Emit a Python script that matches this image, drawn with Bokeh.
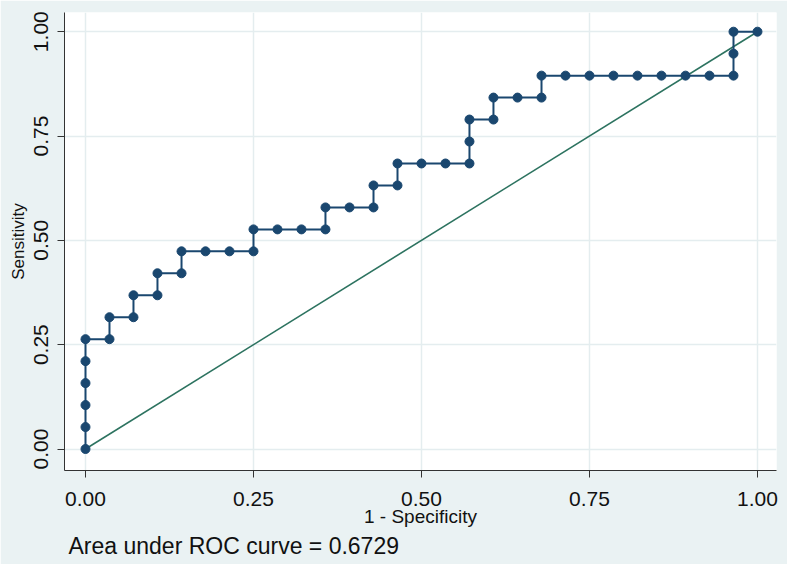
from bokeh.plotting import figure
from bokeh.models import Range1d, FixedTicker, NumeralTickFormatter, Title
from bokeh.embed import file_html
from bokeh.resources import INLINE

# ROC curve points (1 - specificity, sensitivity)
fpr = [0.0, 0.0, 0.0, 0.0, 0.0, 0.0, 0.0357, 0.0357, 0.0714, 0.0714,
       0.1071, 0.1071, 0.1429, 0.1429, 0.1786, 0.2143, 0.25, 0.25, 0.2857, 0.3214,
       0.3571, 0.3571, 0.3929, 0.4286, 0.4286, 0.4643, 0.4643, 0.5, 0.5357, 0.5714,
       0.5714, 0.5714, 0.6071, 0.6071, 0.6429, 0.6786, 0.6786, 0.7143, 0.75, 0.7857,
       0.8214, 0.8571, 0.8929, 0.9286, 0.9643, 0.9643, 0.9643, 1.0]
sens = [0.0, 0.0526, 0.1053, 0.1579, 0.2105, 0.2632, 0.2632, 0.3158, 0.3158, 0.3684,
        0.3684, 0.4211, 0.4211, 0.4737, 0.4737, 0.4737, 0.4737, 0.5263, 0.5263, 0.5263,
        0.5263, 0.5789, 0.5789, 0.5789, 0.6316, 0.6316, 0.6842, 0.6842, 0.6842, 0.6842,
        0.7368, 0.7895, 0.7895, 0.8421, 0.8421, 0.8421, 0.8947, 0.8947, 0.8947, 0.8947,
        0.8947, 0.8947, 0.8947, 0.8947, 0.8947, 0.9474, 1.0, 1.0]
ref_x = [0.0, 1.0]
ref_y = [0.0, 1.0]
ticks = [0.0, 0.25, 0.5, 0.75, 1.0]
auc_text = "Area under ROC curve = 0.6729"

BG = "#EAF2F3"
NAVY = "#1a476f"
GREEN = "#2d7360"
FONT = "Liberation Sans"

p = figure(width=787, height=564, output_backend="svg", toolbar_location=None,
           x_range=Range1d(-0.03125, 1.0283), y_range=Range1d(-0.0515, 1.046),
           min_border_left=64, min_border_top=12, min_border_right=11, min_border_bottom=94)
p.border_fill_color = BG
p.background_fill_color = "white"
p.outline_line_color = None

p.line(ref_x, ref_y, line_color=GREEN, line_width=1.6)
p.line(fpr, sens, line_color=NAVY, line_width=2)
p.scatter(fpr, sens, size=9, fill_color=NAVY, line_color=NAVY)

for ax in (p.xaxis[0], p.yaxis[0]):
    ax.ticker = FixedTicker(ticks=ticks)
    ax.formatter = NumeralTickFormatter(format="0.00")
    ax.axis_line_color = "#333333"
    ax.major_tick_line_color = "#333333"
    ax.major_tick_out = 7
    ax.major_tick_in = 0
    ax.minor_tick_line_color = None
    ax.major_label_text_font = FONT
    ax.major_label_text_font_size = "21px"
    ax.major_label_text_color = "#111111"
    ax.axis_label_text_font = FONT
    ax.axis_label_text_font_style = "normal"
    ax.axis_label_text_color = "#111111"

p.xaxis.axis_label = "1 - Specificity"
p.xaxis.axis_label_text_font_size = "19px"
p.xaxis.major_label_standoff = 14
p.xaxis.axis_label_standoff = -3
p.yaxis.axis_label = "Sensitivity"
p.yaxis.axis_label_text_font_size = "17px"
p.yaxis.major_label_orientation = "vertical"
p.yaxis.major_label_standoff = 9
p.yaxis.axis_label_standoff = 4

p.grid.grid_line_color = "#E4EDEF"
p.grid.grid_line_width = 1.5
p.xgrid.ticker = FixedTicker(ticks=ticks)
p.ygrid.ticker = FixedTicker(ticks=ticks)

note = Title(text=auc_text, align="left", offset=4, text_font=FONT,
             text_font_size="23px", text_font_style="normal", text_color="#111111",
             standoff=2)
p.add_layout(note, "below")

open("out.html", "w").write(file_html(p, INLINE))
